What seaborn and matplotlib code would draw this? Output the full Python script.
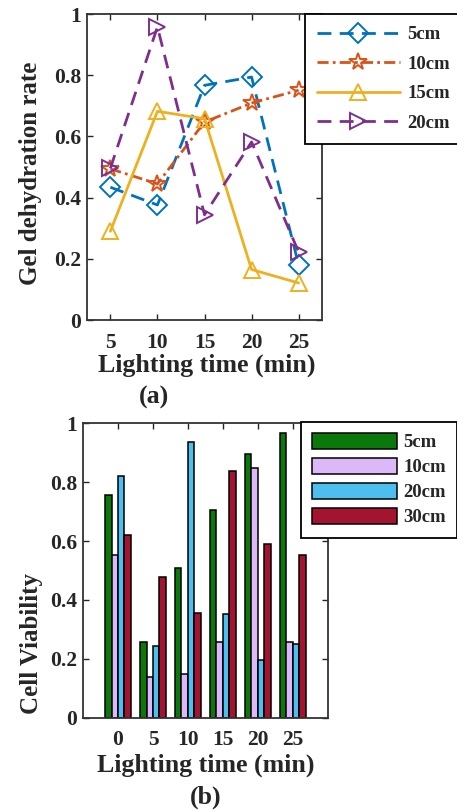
import numpy as np
import pandas as pd
import matplotlib
matplotlib.use('Agg')
import matplotlib.pyplot as plt
import seaborn as sns

# --- data ---
time_a = [5, 10, 15, 20, 25]
gel_5cm = [0.434, 0.376, 0.767, 0.794, 0.18]
gel_10cm = [0.494, 0.445, 0.647, 0.709, 0.751]
gel_15cm = [0.29, 0.682, 0.658, 0.165, 0.121]
gel_20cm = [0.496, 0.958, 0.344, 0.582, 0.222]

time_b = ['0', '5', '10', '15', '20', '25']
cell_5cm = [0.756, 0.256, 0.509, 0.705, 0.895, 0.966]
cell_10cm = [0.551, 0.139, 0.150, 0.258, 0.847, 0.256]
cell_20cm = [0.820, 0.244, 0.934, 0.352, 0.197, 0.252]
cell_30cm = [0.619, 0.477, 0.355, 0.838, 0.589, 0.553]

sns.set_style('white')
plt.rcParams['font.family'] = ['Liberation Serif', 'DejaVu Serif']
plt.rcParams['font.weight'] = 'bold'
plt.rcParams['axes.labelweight'] = 'bold'

fig = plt.figure(figsize=(4.57, 8.11), dpi=100)
ax1 = fig.add_axes([0.190, 0.6054, 0.515, 0.3773])
ax2 = fig.add_axes([0.1816, 0.1147, 0.536, 0.3637])

# --- (a) line chart ---
line_specs = [
    ('5cm', gel_5cm, '#0072BD', 'D', (5, 3)),
    ('10cm', gel_10cm, '#D95319', '*', (4, 1.5, 1, 1.5)),
    ('15cm', gel_15cm, '#EDB120', '^', None),
    ('20cm', gel_20cm, '#7E2F8E', '>', (5, 3)),
]
for name, vals, col, mk, dash in line_specs:
    ms = {'D': 10, '*': 13}.get(mk, 11)
    sns.lineplot(x=time_a, y=vals, ax=ax1, color=col, marker=mk,
                 markersize=ms, markerfacecolor='none', markeredgecolor=col,
                 markeredgewidth=1.4, linewidth=2, label=name)
    line = ax1.get_lines()[-1]
    if dash is not None:
        line.set_dashes(dash)

ax1.set_xlim(2.5, 27.5)
ax1.set_ylim(0, 1)
ax1.set_xticks(time_a)
ax1.set_yticks([0, 0.2, 0.4, 0.6, 0.8, 1])
ax1.set_yticklabels(['0', '0.2', '0.4', '0.6', '0.8', '1'])
ax1.set_ylabel('Gel dehydration rate', fontsize=18, fontweight='bold')
ax1.yaxis.set_label_coords(-0.191, 0.48)
ax1.set_xlabel('')
leg1 = ax1.legend(loc='upper left', bbox_to_anchor=(0.667, 0.9827),
                  bbox_transform=fig.transFigure, fontsize=13.5, handlelength=4.4,
                  handletextpad=0.4, borderaxespad=0, frameon=True, fancybox=False,
                  framealpha=1, borderpad=0.65, labelspacing=0.66)
leg1.get_frame().set_edgecolor('black')
leg1.get_frame().set_linewidth(1.3)
fig.text(0.452, 0.550, 'Lighting time (min)', ha='center', va='center', fontsize=18.6, fontweight='bold')
fig.text(0.337, 0.5105, '(a)', ha='center', va='center', fontsize=18.6, fontweight='bold')

# --- (b) grouped bar chart ---
df = pd.DataFrame({
    'time': time_b * 4,
    'value': cell_5cm + cell_10cm + cell_20cm + cell_30cm,
    'dist': ['5cm'] * 6 + ['10cm'] * 6 + ['20cm'] * 6 + ['30cm'] * 6,
})
bar_colors = ['#0b780b', '#dcb8f8', '#4dbeee', '#a2142f']
sns.barplot(data=df, x='time', y='value', hue='dist', palette=bar_colors,
            width=0.74, edgecolor='black', linewidth=1.1, ax=ax2, saturation=1)
ax2.set_xlim(-1, 6)
ax2.set_ylim(0, 1)
ax2.set_yticks([0, 0.2, 0.4, 0.6, 0.8, 1])
ax2.set_yticklabels(['0', '0.2', '0.4', '0.6', '0.8', '1'])
ax2.set_ylabel('Cell Viability', fontsize=18, fontweight='bold')
ax2.yaxis.set_label_coords(-0.163, 0.254)
ax2.set_xlabel('')
leg2 = ax2.legend(loc='upper left', bbox_to_anchor=(0.659, 0.4797),
                  bbox_transform=fig.transFigure, fontsize=13.5, handlelength=4.5,
                  handleheight=0.9, handletextpad=0.35, borderaxespad=0,
                  frameon=True, fancybox=False, framealpha=1,
                  borderpad=0.6, labelspacing=0.36)
leg2.get_frame().set_edgecolor('black')
leg2.get_frame().set_linewidth(1.3)
fig.text(0.451, 0.0567, 'Lighting time (min)', ha='center', va='center', fontsize=18.6, fontweight='bold')
fig.text(0.449, 0.0173, '(b)', ha='center', va='center', fontsize=18.6, fontweight='bold')

for ax in (ax1, ax2):
    for sp in ax.spines.values():
        sp.set_visible(True)
        sp.set_color('#333333')
        sp.set_linewidth(1.3)
    ax.tick_params(direction='in', length=4, width=1, top=True, right=True,
                   bottom=True, left=True, labelsize=15.5)
    ax.tick_params(axis='x', pad=9)
    ax.tick_params(axis='y', pad=4)
    for t in ax.get_xticklabels() + ax.get_yticklabels():
        t.set_fontweight('bold')

fig.savefig('out.png', dpi=100)
